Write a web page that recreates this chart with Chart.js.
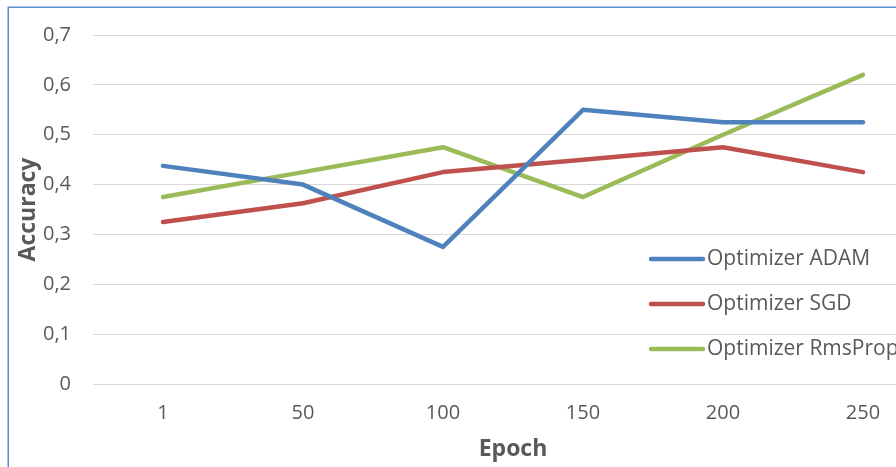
<!DOCTYPE html>
<html>
<head>
<meta charset="utf-8">
<script src="https://cdn.jsdelivr.net/npm/chart.js@4/dist/chart.umd.min.js"></script>
<style>
  html, body { margin: 0; padding: 0; width: 896px; height: 467px; overflow: hidden; background: #fff; }
  #wrap { position: absolute; left: 0; top: 0; width: 960px; height: 467px; }
</style>
</head>
<body>
<div id="wrap"><canvas id="c"></canvas></div>
<script>
const epochs = ['1', '50', '100', '150', '200', '250'];
const adam = [0.4375, 0.4, 0.275, 0.55, 0.525, 0.525];
const sgd = [0.325, 0.3625, 0.425, 0.45, 0.475, 0.425];
const rmsprop = [0.375, 0.425, 0.475, 0.375, 0.5, 0.62];
const seriesNames = ['Optimizer ADAM', 'Optimizer SGD', 'Optimizer RmsProp'];
const seriesColors = ['#4F81BD', '#C0504D', '#9BBB59'];

const TXT = '#595959';
const FONT = '"Open Sans", sans-serif';

const framePlugin = {
  id: 'frame',
  afterDraw(chart) {
    const ctx = chart.ctx;
    ctx.save();
    ctx.strokeStyle = '#5b8bd0';
    ctx.lineWidth = 1.5;
    ctx.strokeRect(8.25, 7.25, chart.width + 20, chart.height + 20);
    ctx.restore();
  }
};

const legendPlugin = {
  id: 'insideLegend',
  afterDatasetsDraw(chart) {
    const ctx = chart.ctx;
    ctx.save();
    const ys = [259, 304, 349];
    chart.data.datasets.forEach((ds, i) => {
      const y = ys[i];
      ctx.strokeStyle = ds.borderColor;
      ctx.lineWidth = ds.borderWidth;
      ctx.lineCap = 'round';
      ctx.beginPath();
      ctx.moveTo(651, y);
      ctx.lineTo(703, y);
      ctx.stroke();
      ctx.fillStyle = TXT;
      ctx.font = '21px ' + FONT;
      ctx.textBaseline = 'middle';
      ctx.textAlign = 'left';
      ctx.fillText(ds.label, 707, y);
    });
    ctx.restore();
  }
};

new Chart(document.getElementById('c'), {
  type: 'line',
  data: {
    labels: epochs,
    datasets: [adam, sgd, rmsprop].map((d, i) => ({
      label: seriesNames[i],
      data: d,
      borderColor: seriesColors[i],
      backgroundColor: seriesColors[i],
      borderWidth: 4.5,
      pointRadius: 0,
      tension: 0,
      borderCapStyle: 'round',
      borderJoinStyle: 'round',
      fill: false
    }))
  },
  options: {
    responsive: true,
    maintainAspectRatio: false,
    animation: false,
    layout: { padding: { top: 35, right: 27, left: 0, bottom: 0 } },
    plugins: { legend: { display: false }, tooltip: { enabled: false } },
    scales: {
      x: {
        offset: true,
        grid: { display: false, drawTicks: false },
        border: { display: false },
        ticks: { color: TXT, font: { family: FONT, size: 20 }, padding: 17, maxRotation: 0 },
        title: { display: true, text: 'Epoch', color: TXT, font: { family: FONT, size: 23, weight: 'bold' }, padding: { top: 0, bottom: 4.2 } },
        afterFit(s) { s.height = 83; }
      },
      y: {
        min: 0, max: 0.7,
        grid: { color: '#d9d9d9', lineWidth: 1, drawTicks: false },
        border: { display: false },
        ticks: {
          stepSize: 0.1, color: TXT, font: { family: FONT, size: 20 }, padding: 22,
          callback: v => (Math.abs(v) < 1e-9 ? '0' : v.toFixed(1).replace('.', ','))
        },
        title: { display: true, text: 'Accuracy', color: TXT, font: { family: FONT, size: 23, weight: 'bold' }, padding: { top: 14.2, bottom: 0 } },
        afterFit(s) { s.width = 93; }
      }
    }
  },
  plugins: [framePlugin, legendPlugin]
});
</script>
</body>
</html>
